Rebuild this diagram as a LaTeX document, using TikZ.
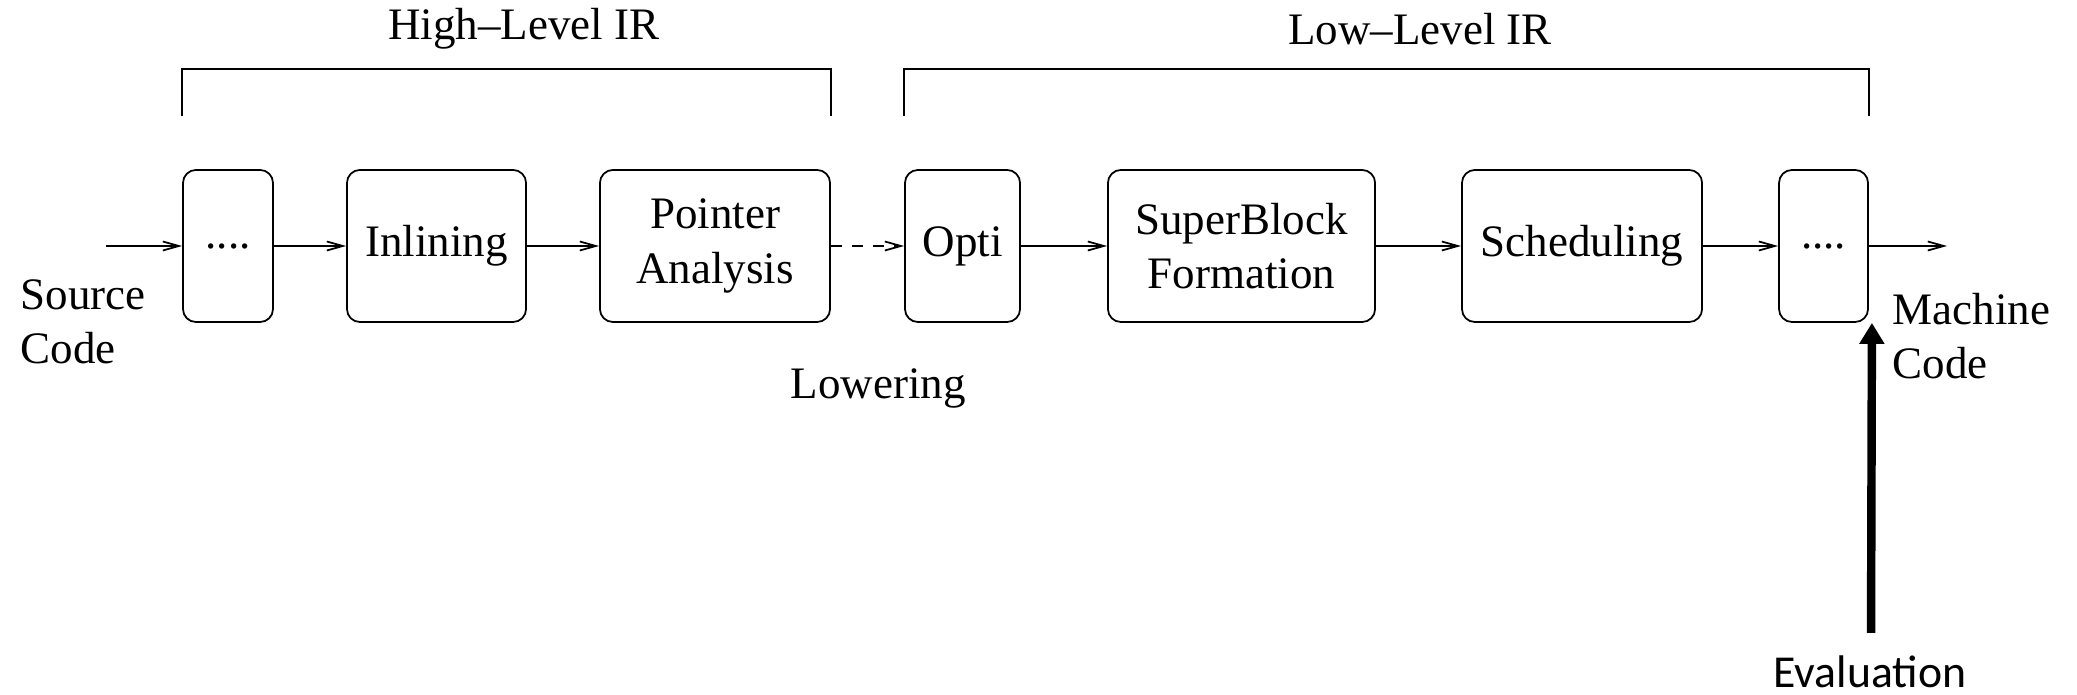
\documentclass[tikz,border=0pt]{standalone}
\usepackage{fontspec}
\setmainfont{Liberation Serif}
\newfontfamily\evalfont{Carlito}
\usetikzlibrary{positioning,calc,arrows.meta}

\tikzset{
  pass/.style={draw, rounded corners=0.13cm, line width=0.5pt, minimum height=1.52cm, inner sep=2pt, align=center},
  flow/.style={line width=0.5pt, -{Straight Barb[length=0.16cm,width=0.09cm]}},
  irbrace/.style={line width=0.6pt},
  evalarrow/.style={line width=2.4pt, -{Triangle[length=0.21cm,width=0.24cm]}},
}

\begin{document}
\begin{tikzpicture}[x=0.01cm,y=-0.01cm,font=\fontsize{12.8}{15.4}\selectfont]
  \useasboundingbox (0,0) rectangle (2077,695);

  % passes of the compiler
  \node[pass,minimum width=0.9cm] (dots1) at (228,246) {....};
  \node[pass,minimum width=1.79cm] (inl) at (436.5,246) {Inlining};
  \node[pass,minimum width=2.3cm] (ptr) at (715,246) {Pointer\\Analysis};
  \node[pass,minimum width=1.15cm] (opt) at (962.5,246) {Opti};
  \node[pass,minimum width=2.67cm] (sbf) at (1241.5,246) {SuperBlock\\Formation};
  \node[pass,minimum width=2.4cm] (sch) at (1582,246) {Scheduling};
  \node[pass,minimum width=0.89cm] (dots2) at (1823.5,246) {....};

  % input / output
  \coordinate (src) at (106,246);
  \coordinate (mc) at (1947,246);
  \node[anchor=west,align=left,inner sep=0pt] (srclabel) at (20,322) {Source\\Code};
  \node[anchor=west,align=left,inner sep=0pt] (mclabel) at (1892,336) {Machine\\Code};
  \node (lower) at (878,388) {Lowering};

  \draw[flow] (src) -- (dots1);
  \draw[flow] (dots1) -- (inl);
  \draw[flow] (inl) -- (ptr);
  \draw[flow,dashed] (ptr) -- (opt);
  \draw[flow] (opt) -- (sbf);
  \draw[flow] (sbf) -- (sch);
  \draw[flow] (sch) -- (dots2);
  \draw[flow] (dots2) -- (mc);

  % IR levels
  \node (hir) at (524,29) {High--Level IR};
  \node (lir) at (1420,29) {Low--Level IR};
  \draw[irbrace] ([yshift=0.53cm]dots1.north west) -- ([yshift=1cm]dots1.north west)
    -- ([yshift=1cm]ptr.north east) -- ([yshift=0.53cm]ptr.north east);
  \draw[irbrace] ([yshift=0.53cm]opt.north west) -- ([yshift=1cm]opt.north west)
    -- ([yshift=1cm]dots2.north east) -- ([yshift=0.53cm]dots2.north east);

  % evaluation point
  \node[font=\evalfont\fontsize{13}{15}\selectfont,anchor=base,inner sep=0pt] (eval) at (1870,687) {Evaluation};
  \draw[evalarrow] ([xshift=0.01cm,yshift=0.54cm]eval.base) -- ([xshift=0.03cm]dots2.south east);
\end{tikzpicture}
\end{document}
